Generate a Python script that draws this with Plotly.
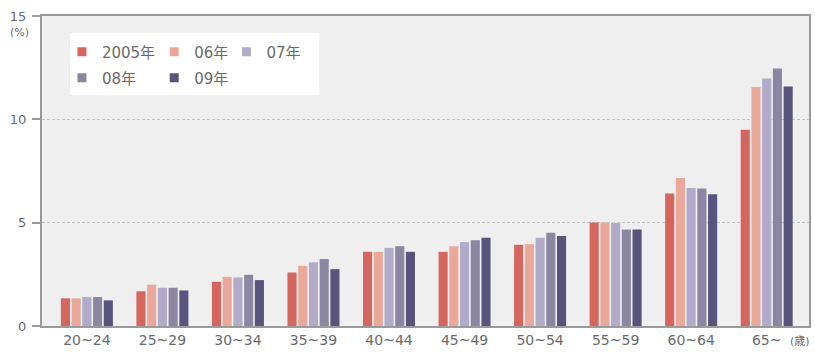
import plotly.graph_objects as go

categories = ["20~24", "25~29", "30~34", "35~39", "40~44", "45~49", "50~54", "55~59", "60~64", "65~"]
series_names = ["2005年", "06年", "07年", "08年", "09年"]
v2005 = [1.34, 1.68, 2.14, 2.59, 3.59, 3.59, 3.93, 5.01, 6.41, 9.50]
v2006 = [1.34, 2.00, 2.38, 2.91, 3.59, 3.86, 3.96, 5.01, 7.16, 11.56]
v2007 = [1.40, 1.85, 2.35, 3.08, 3.78, 4.06, 4.27, 4.98, 6.68, 11.97]
v2008 = [1.40, 1.85, 2.48, 3.24, 3.86, 4.15, 4.51, 4.67, 6.65, 12.46]
v2009 = [1.24, 1.72, 2.22, 2.75, 3.59, 4.27, 4.35, 4.67, 6.38, 11.59]
y_ticks = [0, 5, 10, 15]

series = [v2005, v2006, v2007, v2008, v2009]
colors = ["#d4665e", "#e9a89a", "#b1abc9", "#8b87a3", "#59547e"]

FONT = "DejaVu Sans, Noto Sans CJK JP, sans-serif"
TXT = "#6a6a6a"

fig = go.Figure()
for name, vals, c in zip(series_names, series, colors):
    fig.add_trace(go.Bar(x=categories, y=vals, name=name, marker=dict(color=c, line=dict(width=0)),
                         showlegend=False))

# legend proxies (one legend per entry to reproduce the 3+2 grid)
legend_ids = ["legend", "legend2", "legend3", "legend4", "legend5"]
for name, c, lid in zip(series_names, colors, legend_ids):
    fig.add_trace(go.Scatter(x=[categories[0]], y=[None], mode="markers", name=name,
                             marker=dict(symbol="square", size=9, color=c), legend=lid, showlegend=True))

# plot area: x 42..811, y 16..326
def px_x(p):
    return (p - 42) / 769.0

def px_y(p):
    return (326 - p) / 310.0

leg_pos = [(62, 52), (154.5, 52), (227, 52), (62, 78), (154.5, 78)]
leg_layout = {}
for lid, (lx, ly) in zip(legend_ids, leg_pos):
    leg_layout[lid] = dict(x=px_x(lx), y=px_y(ly), xanchor="left", yanchor="middle",
                           bgcolor="rgba(0,0,0,0)", borderwidth=0, itemwidth=30,
                           font=dict(family=FONT, size=15, color=TXT), orientation="h")

fig.update_layout(
    width=815, height=353,
    margin=dict(l=42, r=4, t=16, b=27),
    paper_bgcolor="white",
    plot_bgcolor="#efefef",
    barmode="group",
    bargap=0.29,
    bargroupgap=0.15,
    font=dict(family=FONT, color=TXT),
    **leg_layout,
)

fig.add_shape(type="rect", xref="paper", yref="paper",
              x0=px_x(70), x1=px_x(320), y0=px_y(95), y1=px_y(33),
              fillcolor="white", line=dict(width=0), layer="below")

fig.update_xaxes(
    range=[-0.594, 9.56],
    showline=True, linecolor="#9a9a9a", linewidth=2, mirror=True,
    ticks="", showgrid=False,
    tickfont=dict(family=FONT, size=14, color=TXT),
)
fig.update_yaxes(
    range=[0, 15], tickvals=y_ticks,
    showline=True, linecolor="#9a9a9a", linewidth=2, mirror=True,
    ticks="outside", ticklen=8, tickcolor="#9a9a9a", tickwidth=1.5,
    showgrid=True, gridcolor="#c4c4c4", griddash="3px,2px", gridwidth=1,
    zeroline=False,
    tickfont=dict(family=FONT, size=13, color=TXT),
    ticklabelstandoff=3,
)

fig.add_annotation(text="(%)", xref="paper", yref="paper", x=px_x(19), y=px_y(33),
                   xanchor="center", yanchor="middle", showarrow=False,
                   font=dict(family=FONT, size=11, color=TXT))
fig.add_annotation(text="(歳)", xref="paper", yref="paper", x=px_x(802), y=px_y(341),
                   xanchor="center", yanchor="middle", showarrow=False,
                   font=dict(family=FONT, size=11, color=TXT))

fig.write_html("out.html")
